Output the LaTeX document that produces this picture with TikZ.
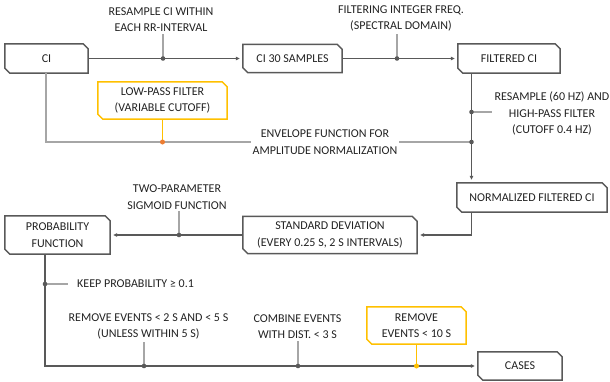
\documentclass[tikz,border=0pt]{standalone}
\usepackage{fontspec}
\setmainfont{Carlito}
\usetikzlibrary{arrows.meta}
\definecolor{dk}{HTML}{595959}
\definecolor{lt}{HTML}{A6A6A6}
\definecolor{yl}{HTML}{FFC000}
\definecolor{og}{HTML}{ED7D31}
\definecolor{tx}{HTML}{222222}
\newcommand\chamf[2][boxline]{%
  \draw[#1] (#2.north west) -- ([xshift=-5pt]#2.north east) -- ([yshift=-5pt]#2.north east)
    -- (#2.south east) -- ([xshift=5pt]#2.south west) -- ([yshift=5pt]#2.south west) -- cycle;}
\begin{document}
\begin{tikzpicture}[x=1pt,y=-1pt,
  font=\fontsize{12}{16.5}\selectfont, text=tx,
  box/.style={inner sep=0pt, align=center},
  boxline/.style={draw=dk, line width=1.5pt, line join=miter},
  yboxline/.style={draw=yl, line width=1.5pt, line join=miter},
  lbl/.style={inner sep=2pt, align=center},
  conn/.style={draw=dk, line width=1.2pt},
  arr/.style={-{Triangle[length=4pt,width=3.6pt]}, shorten >=3pt},
  light/.style={draw=lt, line width=1.2pt},
  ylw/.style={draw=yl, line width=1.2pt},
  dot/.style={fill=dk, draw=none},
]
\useasboundingbox (0,0) rectangle (610,381);

% boxes
\node[box, minimum width=83pt, minimum height=29pt] (ci) at (46.5,58.5) {CI};
\node[box, minimum width=99pt, minimum height=28pt] (s30) at (292.5,58.5) {CI 30 SAMPLES};
\node[box, minimum width=102pt, minimum height=29pt] (fci) at (509,58.5) {FILTERED CI};
\node[box, minimum width=150pt, minimum height=29pt] (nfci) at (532,197.5) {NORMALIZED FILTERED CI};
\node[box, minimum width=174pt, minimum height=37pt] (std) at (330,235) {STANDARD DEVIATION\\(EVERY 0.25 S, 2 S INTERVALS)};
\node[box, minimum width=105pt, minimum height=38pt] (prob) at (57.5,235) {PROBABILITY\\FUNCTION};
\node[box, minimum width=84pt, minimum height=28pt] (cases) at (520,366) {CASES};
\node[box, minimum width=129pt, minimum height=37pt] (lp) at (162.5,100.5) {LOW-PASS FILTER\\(VARIABLE CUTOFF)};
\node[box, minimum width=99pt, minimum height=37pt] (rm) at (416.5,325.5) {REMOVE\\EVENTS < 10 S};
\chamf{ci}\chamf{s30}\chamf{fci}\chamf{nfci}\chamf{std}\chamf{prob}\chamf{cases}
\chamf[yboxline]{lp}\chamf[yboxline]{rm}

% labels
\node[lbl] (l1) at (161,19.5) {RESAMPLE CI WITHIN\\EACH RR-INTERVAL};
\node[lbl] (l2) at (401,18.5) {FILTERING INTEGER FREQ.\\(SPECTRAL DOMAIN)};
\node[lbl] (l3) at (552,113.5) {RESAMPLE (60 HZ) AND\\HIGH-PASS FILTER\\(CUTOFF 0.4 HZ)};
\node[lbl] (env) at (325,142) {ENVELOPE FUNCTION FOR\\AMPLITUDE NORMALIZATION};
\node[lbl] (l4) at (177,197) {TWO-PARAMETER\\SIGMOID FUNCTION};
\node[lbl, anchor=west, inner sep=4pt] (keep) at (73,284) {KEEP PROBABILITY ≥ 0.1};
\node[lbl] (l5) at (148.5,326.5) {REMOVE EVENTS < 2 S AND < 5 S\\(UNLESS WITHIN 5 S)};
\node[lbl] (l6) at (297.5,326.5) {COMBINE EVENTS\\WITH DIST. < 3 S};

% junction coordinates
\coordinate (vx) at (471.5,0);
\coordinate (vx2) at (45,0);
\coordinate (d1) at (163,58.5);
\coordinate (d2) at (397,58.5);
\coordinate (d3) at (471.5,112);
\coordinate (d4) at (471.5,142);
\coordinate (d5) at (162.5,142);
\coordinate (d6) at (179,235);
\coordinate (d7) at (45,284);
\coordinate (d8) at (144,366);
\coordinate (d9) at (298,366);
\coordinate (d10) at (416.5,366);

% label leaders
\draw[light] (d1) -- (d1 |- l1.south);
\draw[light] (d2) -- (d2 |- l2.south);
\draw[light] (d3) -- (d3 -| l3.west);
\draw[light] (ci.south -| 46,0) |- (env.west);
\draw[light] (env.east) -- (d4);
\draw[light] (d6) -- (d6 |- l4.south);
\draw[light] (d7) -- ([xshift=-5pt]keep.west);
\draw[light] (d8) -- (d8 |- l5.south);
\draw[light] (d9) -- (d9 |- l6.south);
\draw[ylw] (lp.south) -- (d5);
\draw[ylw] (rm.south) -- (d10);

% main connectors
\draw[conn,arr] (ci.east) -- (s30.west);
\draw[conn,arr] (s30.east) -- (fci.west);
\draw[conn,arr] (fci.south -| vx) -- (nfci.north -| vx);
\draw[conn,arr] (nfci.south -| vx) |- (std.east);
\draw[conn,arr] (std.west) -- (prob.east);
\draw[conn,arr] (prob.south -| vx2) |- (cases.west);

% dots
\foreach \d in {d1,d2,d3,d4,d6,d7,d8,d9} \fill[dk] (\d) circle (2.3pt);
\fill[og] (d5) circle (2.5pt);
\fill[yl] (d10) circle (2.5pt);
\end{tikzpicture}
\end{document}
